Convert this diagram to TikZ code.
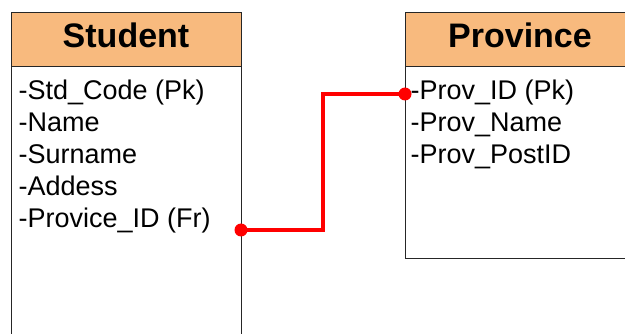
\documentclass[tikz,border=0pt]{standalone}
\usepackage{fontspec}
\setmainfont{Liberation Sans}
\definecolor{hdr}{HTML}{F8BA7E}
\definecolor{rel}{HTML}{FF0000}
\tikzset{
  hdrbox/.style={draw=black!85, line width=1.1pt, fill=hdr, anchor=north west, inner sep=0pt},
  hdrtext/.style={anchor=base, inner sep=0pt, font=\fontsize{34}{38}\selectfont\bfseries},
  bodybox/.style={draw=black!85, line width=1.1pt, fill=white, anchor=north west, inner sep=0pt},
  attr/.style={anchor=base west, inner sep=0pt, font=\fontsize{27}{32}\selectfont},
  relline/.style={draw=rel, line width=3.6pt, line join=miter},
  reldot/.style={circle, fill=rel, inner sep=0pt, minimum size=13pt}
}
\begin{document}
\begin{tikzpicture}[x=1pt,y=-1pt]
\useasboundingbox (0,0) rectangle (625,334);
\clip (0,0) rectangle (625,334);
% Student
\node[bodybox, minimum width=230pt, minimum height=290pt] (sb) at (11,66) {};
\node[hdrbox, minimum width=230pt, minimum height=54pt] (sh) at (11,12) {};
\node[hdrtext] (st) at (126,48) {Student};
\node[attr] (s1) at (18.5,100) {-Std\_Code (Pk)};
\node[attr] (s2) at (18.5,132) {-Name};
\node[attr] (s3) at (18.5,164) {-Surname};
\node[attr] (s4) at (18.5,196) {-Addess};
\node[attr] (s5) at (18.5,228) {-Provice\_ID (Fr)};
% Province
\node[bodybox, minimum width=240pt, minimum height=192pt] (pb) at (405,66) {};
\node[hdrbox, minimum width=240pt, minimum height=54pt] (ph) at (405,12) {};
\node[hdrtext] (pt) at (520,48) {Province};
\node[attr] (p1) at (410.5,100) {-Prov\_ID (Pk)};
\node[attr] (p2) at (410.5,132) {-Prov\_Name};
\node[attr] (p3) at (410.5,164) {-Prov\_PostID};
% relationship
\node[reldot] (fk) at (241,230) {};
\node[reldot] (pk) at (405,94) {};
\draw[relline] (fk.center) -- (323,230) |- (pk.center);
\end{tikzpicture}
\end{document}
